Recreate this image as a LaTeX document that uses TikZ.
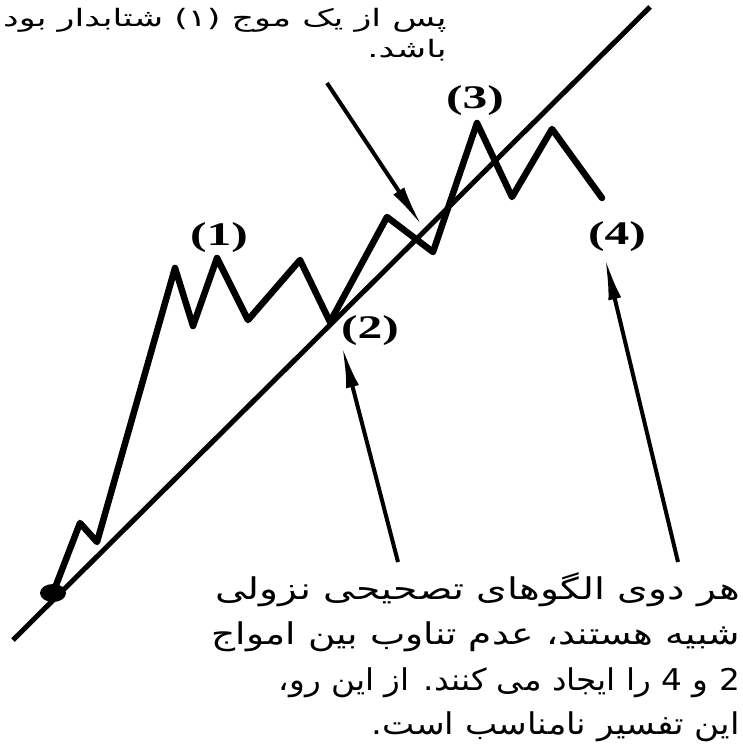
\documentclass[tikz,border=0pt]{standalone}
\usepackage{fontspec}
\setmainfont{Liberation Serif}
\newfontfamily\arabicfont[Script=Arabic]{DejaVu Sans}
\TeXXeTstate=1
\usetikzlibrary{arrows.meta}
\begin{document}
\begin{tikzpicture}[x=1pt,y=-1pt,
  wave/.style={line width=6.5pt, line join=round, line cap=round},
  trend/.style={line width=5pt, line cap=butt},
  pointer/.style={line width=4pt, -{Latex[length=42pt,width=13pt]}},
  wavelabel/.style={font=\bfseries\fontsize{33}{33}\selectfont, xscale=1.5, inner sep=0pt},
  note/.style={font=\arabicfont\fontsize{30}{34}\selectfont, inner sep=0pt, anchor=east},
  topnote/.style={font=\arabicfont\fontsize{24}{28}\selectfont, inner sep=0pt, anchor=east, xscale=1.46}]
\useasboundingbox (0,0) rectangle (742,751);
\fill[white] (0,0) rectangle (742,751);
% trend line
\coordinate (tA) at (13,640);
\coordinate (tB) at (650,7);
\draw[trend] (tA) -- (tB);
% wave points
\coordinate (p0) at (53,593);
\coordinate (p1) at (80,523);
\coordinate (p2) at (97,542);
\coordinate (p3) at (175,268);
\coordinate (p4) at (193,326);
\coordinate (p5) at (217,258);
\coordinate (p6) at (248,320);
\coordinate (p7) at (300,260);
\coordinate (p8) at (330,322);
\coordinate (p9) at (387,217);
\coordinate (p10) at (433,252);
\coordinate (p11) at (477,123);
\coordinate (p12) at (512,197);
\coordinate (p13) at (552,129);
\coordinate (p14) at (602,198);
\draw[wave] (p0) -- (p1) -- (p2) -- (p3) -- (p4) -- (p5) -- (p6) -- (p7) -- (p8) -- (p9) -- (p10) -- (p11) -- (p12) -- (p13) -- (p14);
\fill (p0) ellipse [x radius=13pt, y radius=9pt];
% labels
\node[wavelabel] (l1) at (219,238) {(1)};
\node[wavelabel] (l2) at (370,331) {(2)};
\node[wavelabel] (l3) at (475,101) {(3)};
\node[wavelabel] (l4) at (617,237) {(4)};
% top note
\node[topnote] (n1) at (447,20) {\beginR پس از یک موج (۱) شتابدار بود\endR};
\node[topnote] (n2) at (447,50) {\beginR باشد.\endR};
% bottom note
\node[note, xscale=1.31] (b1) at (740,590) {\beginR هر دوی الگوهای تصحیحی نزولی\endR};
\node[note, xscale=1.25] (b2) at (740,637) {\beginR شبیه هستند، عدم تناوب بین امواج\endR};
\node[note, xscale=1.09] (b3) at (740,683) {\beginR 2 و 4 را ایجاد می کنند. از این رو،\endR};
\node[note, xscale=1.14] (b4) at (740,727) {\beginR این تفسیر نامناسب است.\endR};
% arrows
\coordinate (a1s) at (327,83);
\coordinate (a1e) at (422,226);
\coordinate (a2s) at (398,562);
\coordinate (a2e) at (342,346);
\coordinate (a4s) at (678,562);
\coordinate (a4e) at (605,258);
\draw[pointer] (a1s) -- (a1e);
\draw[pointer] (a2s) -- (a2e);
\draw[pointer] (a4s) -- (a4e);
\end{tikzpicture}
\end{document}
